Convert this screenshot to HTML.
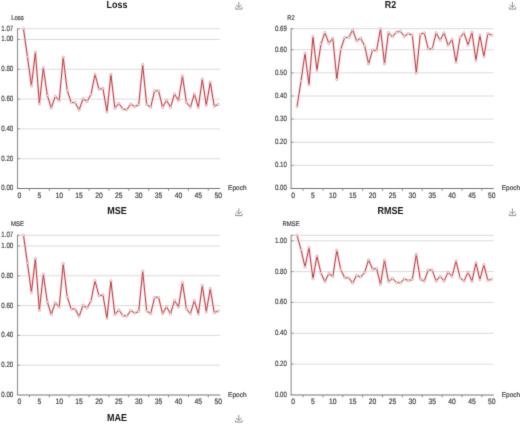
<!DOCTYPE html>
<html><head><meta charset="utf-8"><style>
html,body{margin:0;padding:0;background:#fff;width:520px;height:424px;overflow:hidden}
svg{display:block}
</style></head><body>
<svg width="520" height="424" viewBox="0 0 520 424" text-rendering="geometricPrecision">
<defs><filter id="b" x="0" y="0" width="520" height="424" filterUnits="userSpaceOnUse" color-interpolation-filters="sRGB"><feConvolveMatrix order="3" kernelMatrix="0.01134 0.08382 0.01134 0.08382 0.61935 0.08382 0.01134 0.08382 0.01134" edgeMode="duplicate" preserveAlpha="true"/></filter></defs>
<g filter="url(#b)">
<rect width="520" height="424" fill="#fff"/>
<text transform="translate(117.00,7.60) scale(1,1.13)" text-anchor="middle" font-family='"Liberation Sans", sans-serif' font-size="9" fill="#151515" font-weight="bold">Loss</text>
<path d="M238.80,1.90 L238.80,7.30 M235.90,4.90 L238.80,7.40 L241.70,4.90 M235.70,7.10 L235.70,9.10 L242.00,9.10 L242.00,7.10" fill="none" stroke="#8a8a8a" stroke-width="0.95"/>
<text transform="translate(17.50,19.60) scale(0.92,1.05)" text-anchor="middle" font-family='"Liberation Sans", sans-serif' font-size="6.5" fill="#3a3a3a" stroke="#3a3a3a" stroke-width="0.16">Loss</text>
<line x1="17.50" y1="28.75" x2="220.20" y2="28.75" stroke="#d2d2d2" stroke-width="0.8"/>
<line x1="17.50" y1="28.75" x2="19.70" y2="28.75" stroke="#666666" stroke-width="0.7"/>
<text transform="translate(13.20,30.70) scale(1,1.1)" text-anchor="end" font-family='"Liberation Sans", sans-serif' font-size="7" fill="#3a3a3a" textLength="11.9" lengthAdjust="spacingAndGlyphs" stroke="#3a3a3a" stroke-width="0.16">1.07</text>
<line x1="17.50" y1="39.48" x2="220.20" y2="39.48" stroke="#d2d2d2" stroke-width="0.8"/>
<line x1="17.50" y1="39.48" x2="19.70" y2="39.48" stroke="#666666" stroke-width="0.7"/>
<text transform="translate(13.20,41.43) scale(1,1.1)" text-anchor="end" font-family='"Liberation Sans", sans-serif' font-size="7" fill="#3a3a3a" textLength="11.9" lengthAdjust="spacingAndGlyphs" stroke="#3a3a3a" stroke-width="0.16">1.00</text>
<line x1="17.50" y1="69.28" x2="220.20" y2="69.28" stroke="#d2d2d2" stroke-width="0.8"/>
<line x1="17.50" y1="69.28" x2="19.70" y2="69.28" stroke="#666666" stroke-width="0.7"/>
<text transform="translate(13.20,71.23) scale(1,1.1)" text-anchor="end" font-family='"Liberation Sans", sans-serif' font-size="7" fill="#3a3a3a" textLength="11.9" lengthAdjust="spacingAndGlyphs" stroke="#3a3a3a" stroke-width="0.16">0.80</text>
<line x1="17.50" y1="99.09" x2="220.20" y2="99.09" stroke="#d2d2d2" stroke-width="0.8"/>
<line x1="17.50" y1="99.09" x2="19.70" y2="99.09" stroke="#666666" stroke-width="0.7"/>
<text transform="translate(13.20,101.04) scale(1,1.1)" text-anchor="end" font-family='"Liberation Sans", sans-serif' font-size="7" fill="#3a3a3a" textLength="11.9" lengthAdjust="spacingAndGlyphs" stroke="#3a3a3a" stroke-width="0.16">0.60</text>
<line x1="17.50" y1="128.89" x2="220.20" y2="128.89" stroke="#d2d2d2" stroke-width="0.8"/>
<line x1="17.50" y1="128.89" x2="19.70" y2="128.89" stroke="#666666" stroke-width="0.7"/>
<text transform="translate(13.20,130.84) scale(1,1.1)" text-anchor="end" font-family='"Liberation Sans", sans-serif' font-size="7" fill="#3a3a3a" textLength="11.9" lengthAdjust="spacingAndGlyphs" stroke="#3a3a3a" stroke-width="0.16">0.40</text>
<line x1="17.50" y1="158.70" x2="220.20" y2="158.70" stroke="#d2d2d2" stroke-width="0.8"/>
<line x1="17.50" y1="158.70" x2="19.70" y2="158.70" stroke="#666666" stroke-width="0.7"/>
<text transform="translate(13.20,160.65) scale(1,1.1)" text-anchor="end" font-family='"Liberation Sans", sans-serif' font-size="7" fill="#3a3a3a" textLength="11.9" lengthAdjust="spacingAndGlyphs" stroke="#3a3a3a" stroke-width="0.16">0.20</text>
<text transform="translate(13.20,190.45) scale(1,1.1)" text-anchor="end" font-family='"Liberation Sans", sans-serif' font-size="7" fill="#3a3a3a" textLength="11.9" lengthAdjust="spacingAndGlyphs" stroke="#3a3a3a" stroke-width="0.16">0.00</text>
<line x1="17.50" y1="28.35" x2="17.50" y2="188.50" stroke="#8f8f8f" stroke-width="1.1"/>
<line x1="17.00" y1="188.50" x2="220.20" y2="188.50" stroke="#666666" stroke-width="0.9"/>
<line x1="29.42" y1="188.50" x2="29.42" y2="190.90" stroke="#666666" stroke-width="0.7"/>
<line x1="49.30" y1="188.50" x2="49.30" y2="190.90" stroke="#666666" stroke-width="0.7"/>
<line x1="69.17" y1="188.50" x2="69.17" y2="190.90" stroke="#666666" stroke-width="0.7"/>
<line x1="89.04" y1="188.50" x2="89.04" y2="190.90" stroke="#666666" stroke-width="0.7"/>
<line x1="108.91" y1="188.50" x2="108.91" y2="190.90" stroke="#666666" stroke-width="0.7"/>
<line x1="128.79" y1="188.50" x2="128.79" y2="190.90" stroke="#666666" stroke-width="0.7"/>
<line x1="148.66" y1="188.50" x2="148.66" y2="190.90" stroke="#666666" stroke-width="0.7"/>
<line x1="168.53" y1="188.50" x2="168.53" y2="190.90" stroke="#666666" stroke-width="0.7"/>
<line x1="188.40" y1="188.50" x2="188.40" y2="190.90" stroke="#666666" stroke-width="0.7"/>
<line x1="208.28" y1="188.50" x2="208.28" y2="190.90" stroke="#666666" stroke-width="0.7"/>
<text transform="translate(19.49,197.65) scale(1,1.15)" text-anchor="middle" font-family='"Liberation Sans", sans-serif' font-size="6.8" fill="#3a3a3a" stroke="#3a3a3a" stroke-width="0.16">0</text>
<text transform="translate(39.36,197.65) scale(1,1.15)" text-anchor="middle" font-family='"Liberation Sans", sans-serif' font-size="6.8" fill="#3a3a3a" stroke="#3a3a3a" stroke-width="0.16">5</text>
<text transform="translate(59.23,197.65) scale(1,1.15)" text-anchor="middle" font-family='"Liberation Sans", sans-serif' font-size="6.8" fill="#3a3a3a" stroke="#3a3a3a" stroke-width="0.16">10</text>
<text transform="translate(79.10,197.65) scale(1,1.15)" text-anchor="middle" font-family='"Liberation Sans", sans-serif' font-size="6.8" fill="#3a3a3a" stroke="#3a3a3a" stroke-width="0.16">15</text>
<text transform="translate(98.98,197.65) scale(1,1.15)" text-anchor="middle" font-family='"Liberation Sans", sans-serif' font-size="6.8" fill="#3a3a3a" stroke="#3a3a3a" stroke-width="0.16">20</text>
<text transform="translate(118.85,197.65) scale(1,1.15)" text-anchor="middle" font-family='"Liberation Sans", sans-serif' font-size="6.8" fill="#3a3a3a" stroke="#3a3a3a" stroke-width="0.16">25</text>
<text transform="translate(138.72,197.65) scale(1,1.15)" text-anchor="middle" font-family='"Liberation Sans", sans-serif' font-size="6.8" fill="#3a3a3a" stroke="#3a3a3a" stroke-width="0.16">30</text>
<text transform="translate(158.60,197.65) scale(1,1.15)" text-anchor="middle" font-family='"Liberation Sans", sans-serif' font-size="6.8" fill="#3a3a3a" stroke="#3a3a3a" stroke-width="0.16">35</text>
<text transform="translate(178.47,197.65) scale(1,1.15)" text-anchor="middle" font-family='"Liberation Sans", sans-serif' font-size="6.8" fill="#3a3a3a" stroke="#3a3a3a" stroke-width="0.16">40</text>
<text transform="translate(198.34,197.65) scale(1,1.15)" text-anchor="middle" font-family='"Liberation Sans", sans-serif' font-size="6.8" fill="#3a3a3a" stroke="#3a3a3a" stroke-width="0.16">45</text>
<text transform="translate(218.21,197.65) scale(1,1.15)" text-anchor="middle" font-family='"Liberation Sans", sans-serif' font-size="6.8" fill="#3a3a3a" stroke="#3a3a3a" stroke-width="0.16">50</text>
<text transform="translate(228.10,190.10) scale(1.0,1.05)" text-anchor="start" font-family='"Liberation Sans", sans-serif' font-size="6.5" fill="#3a3a3a" stroke="#3a3a3a" stroke-width="0.16">Epoch</text>
<path d="M23.46,28.75 L27.44,56.62 L31.41,85.97 L35.39,52.15 L39.36,103.86 L43.33,67.64 L47.31,95.36 L51.28,108.03 L55.26,96.26 L59.23,100.58 L63.21,57.21 L67.18,90.30 L71.16,102.52 L75.13,102.52 L79.10,109.97 L83.08,98.79 L87.05,101.47 L91.03,94.47 L95.00,74.20 L98.98,89.25 L102.95,88.36 L106.93,111.90 L110.90,74.35 L114.88,108.18 L118.85,103.41 L122.82,109.07 L126.80,109.67 L130.77,104.01 L134.75,106.69 L138.72,104.75 L142.70,64.66 L146.67,104.45 L150.65,107.28 L154.62,90.89 L158.60,90.89 L162.57,107.28 L166.54,100.28 L170.52,107.28 L174.49,94.02 L178.47,100.58 L182.44,75.99 L186.42,102.37 L190.39,107.28 L194.37,94.02 L198.34,107.58 L202.31,78.97 L206.29,105.35 L210.26,82.10 L214.24,106.24 L218.21,104.45" fill="none" stroke="#f7e2e4" stroke-width="2.6" stroke-linejoin="round"/>
<path d="M23.46,28.75 L27.44,56.62 L31.41,85.97 L35.39,52.15 L39.36,103.86 L43.33,67.64 L47.31,95.36 L51.28,108.03 L55.26,96.26 L59.23,100.58 L63.21,57.21 L67.18,90.30 L71.16,102.52 L75.13,102.52 L79.10,109.97 L83.08,98.79 L87.05,101.47 L91.03,94.47 L95.00,74.20 L98.98,89.25 L102.95,88.36 L106.93,111.90 L110.90,74.35 L114.88,108.18 L118.85,103.41 L122.82,109.07 L126.80,109.67 L130.77,104.01 L134.75,106.69 L138.72,104.75 L142.70,64.66 L146.67,104.45 L150.65,107.28 L154.62,90.89 L158.60,90.89 L162.57,107.28 L166.54,100.28 L170.52,107.28 L174.49,94.02 L178.47,100.58 L182.44,75.99 L186.42,102.37 L190.39,107.28 L194.37,94.02 L198.34,107.58 L202.31,78.97 L206.29,105.35 L210.26,82.10 L214.24,106.24 L218.21,104.45" fill="none" stroke="#bd3b42" stroke-width="1.0" stroke-linejoin="bevel"/>
<circle cx="23.46" cy="28.75" r="1.2" fill="#fbeeee" stroke="#bd3b42" stroke-width="0.55" stroke-opacity="0.55"/>
<circle cx="27.44" cy="56.62" r="1.2" fill="#fbeeee" stroke="#bd3b42" stroke-width="0.55" stroke-opacity="0.55"/>
<circle cx="31.41" cy="85.97" r="1.2" fill="#fbeeee" stroke="#bd3b42" stroke-width="0.55" stroke-opacity="0.55"/>
<circle cx="35.39" cy="52.15" r="1.2" fill="#fbeeee" stroke="#bd3b42" stroke-width="0.55" stroke-opacity="0.55"/>
<circle cx="39.36" cy="103.86" r="1.2" fill="#fbeeee" stroke="#bd3b42" stroke-width="0.55" stroke-opacity="0.55"/>
<circle cx="43.33" cy="67.64" r="1.2" fill="#fbeeee" stroke="#bd3b42" stroke-width="0.55" stroke-opacity="0.55"/>
<circle cx="47.31" cy="95.36" r="1.2" fill="#fbeeee" stroke="#bd3b42" stroke-width="0.55" stroke-opacity="0.55"/>
<circle cx="51.28" cy="108.03" r="1.2" fill="#fbeeee" stroke="#bd3b42" stroke-width="0.55" stroke-opacity="0.55"/>
<circle cx="55.26" cy="96.26" r="1.2" fill="#fbeeee" stroke="#bd3b42" stroke-width="0.55" stroke-opacity="0.55"/>
<circle cx="59.23" cy="100.58" r="1.2" fill="#fbeeee" stroke="#bd3b42" stroke-width="0.55" stroke-opacity="0.55"/>
<circle cx="63.21" cy="57.21" r="1.2" fill="#fbeeee" stroke="#bd3b42" stroke-width="0.55" stroke-opacity="0.55"/>
<circle cx="67.18" cy="90.30" r="1.2" fill="#fbeeee" stroke="#bd3b42" stroke-width="0.55" stroke-opacity="0.55"/>
<circle cx="71.16" cy="102.52" r="1.2" fill="#fbeeee" stroke="#bd3b42" stroke-width="0.55" stroke-opacity="0.55"/>
<circle cx="75.13" cy="102.52" r="1.2" fill="#fbeeee" stroke="#bd3b42" stroke-width="0.55" stroke-opacity="0.55"/>
<circle cx="79.10" cy="109.97" r="1.2" fill="#fbeeee" stroke="#bd3b42" stroke-width="0.55" stroke-opacity="0.55"/>
<circle cx="83.08" cy="98.79" r="1.2" fill="#fbeeee" stroke="#bd3b42" stroke-width="0.55" stroke-opacity="0.55"/>
<circle cx="87.05" cy="101.47" r="1.2" fill="#fbeeee" stroke="#bd3b42" stroke-width="0.55" stroke-opacity="0.55"/>
<circle cx="91.03" cy="94.47" r="1.2" fill="#fbeeee" stroke="#bd3b42" stroke-width="0.55" stroke-opacity="0.55"/>
<circle cx="95.00" cy="74.20" r="1.2" fill="#fbeeee" stroke="#bd3b42" stroke-width="0.55" stroke-opacity="0.55"/>
<circle cx="98.98" cy="89.25" r="1.2" fill="#fbeeee" stroke="#bd3b42" stroke-width="0.55" stroke-opacity="0.55"/>
<circle cx="102.95" cy="88.36" r="1.2" fill="#fbeeee" stroke="#bd3b42" stroke-width="0.55" stroke-opacity="0.55"/>
<circle cx="106.93" cy="111.90" r="1.2" fill="#fbeeee" stroke="#bd3b42" stroke-width="0.55" stroke-opacity="0.55"/>
<circle cx="110.90" cy="74.35" r="1.2" fill="#fbeeee" stroke="#bd3b42" stroke-width="0.55" stroke-opacity="0.55"/>
<circle cx="114.88" cy="108.18" r="1.2" fill="#fbeeee" stroke="#bd3b42" stroke-width="0.55" stroke-opacity="0.55"/>
<circle cx="118.85" cy="103.41" r="1.2" fill="#fbeeee" stroke="#bd3b42" stroke-width="0.55" stroke-opacity="0.55"/>
<circle cx="122.82" cy="109.07" r="1.2" fill="#fbeeee" stroke="#bd3b42" stroke-width="0.55" stroke-opacity="0.55"/>
<circle cx="126.80" cy="109.67" r="1.2" fill="#fbeeee" stroke="#bd3b42" stroke-width="0.55" stroke-opacity="0.55"/>
<circle cx="130.77" cy="104.01" r="1.2" fill="#fbeeee" stroke="#bd3b42" stroke-width="0.55" stroke-opacity="0.55"/>
<circle cx="134.75" cy="106.69" r="1.2" fill="#fbeeee" stroke="#bd3b42" stroke-width="0.55" stroke-opacity="0.55"/>
<circle cx="138.72" cy="104.75" r="1.2" fill="#fbeeee" stroke="#bd3b42" stroke-width="0.55" stroke-opacity="0.55"/>
<circle cx="142.70" cy="64.66" r="1.2" fill="#fbeeee" stroke="#bd3b42" stroke-width="0.55" stroke-opacity="0.55"/>
<circle cx="146.67" cy="104.45" r="1.2" fill="#fbeeee" stroke="#bd3b42" stroke-width="0.55" stroke-opacity="0.55"/>
<circle cx="150.65" cy="107.28" r="1.2" fill="#fbeeee" stroke="#bd3b42" stroke-width="0.55" stroke-opacity="0.55"/>
<circle cx="154.62" cy="90.89" r="1.2" fill="#fbeeee" stroke="#bd3b42" stroke-width="0.55" stroke-opacity="0.55"/>
<circle cx="158.60" cy="90.89" r="1.2" fill="#fbeeee" stroke="#bd3b42" stroke-width="0.55" stroke-opacity="0.55"/>
<circle cx="162.57" cy="107.28" r="1.2" fill="#fbeeee" stroke="#bd3b42" stroke-width="0.55" stroke-opacity="0.55"/>
<circle cx="166.54" cy="100.28" r="1.2" fill="#fbeeee" stroke="#bd3b42" stroke-width="0.55" stroke-opacity="0.55"/>
<circle cx="170.52" cy="107.28" r="1.2" fill="#fbeeee" stroke="#bd3b42" stroke-width="0.55" stroke-opacity="0.55"/>
<circle cx="174.49" cy="94.02" r="1.2" fill="#fbeeee" stroke="#bd3b42" stroke-width="0.55" stroke-opacity="0.55"/>
<circle cx="178.47" cy="100.58" r="1.2" fill="#fbeeee" stroke="#bd3b42" stroke-width="0.55" stroke-opacity="0.55"/>
<circle cx="182.44" cy="75.99" r="1.2" fill="#fbeeee" stroke="#bd3b42" stroke-width="0.55" stroke-opacity="0.55"/>
<circle cx="186.42" cy="102.37" r="1.2" fill="#fbeeee" stroke="#bd3b42" stroke-width="0.55" stroke-opacity="0.55"/>
<circle cx="190.39" cy="107.28" r="1.2" fill="#fbeeee" stroke="#bd3b42" stroke-width="0.55" stroke-opacity="0.55"/>
<circle cx="194.37" cy="94.02" r="1.2" fill="#fbeeee" stroke="#bd3b42" stroke-width="0.55" stroke-opacity="0.55"/>
<circle cx="198.34" cy="107.58" r="1.2" fill="#fbeeee" stroke="#bd3b42" stroke-width="0.55" stroke-opacity="0.55"/>
<circle cx="202.31" cy="78.97" r="1.2" fill="#fbeeee" stroke="#bd3b42" stroke-width="0.55" stroke-opacity="0.55"/>
<circle cx="206.29" cy="105.35" r="1.2" fill="#fbeeee" stroke="#bd3b42" stroke-width="0.55" stroke-opacity="0.55"/>
<circle cx="210.26" cy="82.10" r="1.2" fill="#fbeeee" stroke="#bd3b42" stroke-width="0.55" stroke-opacity="0.55"/>
<circle cx="214.24" cy="106.24" r="1.2" fill="#fbeeee" stroke="#bd3b42" stroke-width="0.55" stroke-opacity="0.55"/>
<circle cx="218.21" cy="104.45" r="1.2" fill="#fbeeee" stroke="#bd3b42" stroke-width="0.55" stroke-opacity="0.55"/>
<text transform="translate(390.60,7.60) scale(1,1.13)" text-anchor="middle" font-family='"Liberation Sans", sans-serif' font-size="9" fill="#151515" font-weight="bold">R2</text>
<path d="M512.40,1.90 L512.40,7.30 M509.50,4.90 L512.40,7.40 L515.30,4.90 M509.30,7.10 L509.30,9.10 L515.60,9.10 L515.60,7.10" fill="none" stroke="#8a8a8a" stroke-width="0.95"/>
<text transform="translate(291.10,19.60) scale(0.92,1.05)" text-anchor="middle" font-family='"Liberation Sans", sans-serif' font-size="6.5" fill="#3a3a3a" stroke="#3a3a3a" stroke-width="0.16">R2</text>
<line x1="291.10" y1="28.70" x2="493.80" y2="28.70" stroke="#d2d2d2" stroke-width="0.8"/>
<line x1="291.10" y1="28.70" x2="293.30" y2="28.70" stroke="#666666" stroke-width="0.7"/>
<text transform="translate(286.80,30.65) scale(1,1.1)" text-anchor="end" font-family='"Liberation Sans", sans-serif' font-size="7" fill="#3a3a3a" textLength="11.9" lengthAdjust="spacingAndGlyphs" stroke="#3a3a3a" stroke-width="0.16">0.69</text>
<line x1="291.10" y1="49.74" x2="493.80" y2="49.74" stroke="#d2d2d2" stroke-width="0.8"/>
<line x1="291.10" y1="49.74" x2="293.30" y2="49.74" stroke="#666666" stroke-width="0.7"/>
<text transform="translate(286.80,51.69) scale(1,1.1)" text-anchor="end" font-family='"Liberation Sans", sans-serif' font-size="7" fill="#3a3a3a" textLength="11.9" lengthAdjust="spacingAndGlyphs" stroke="#3a3a3a" stroke-width="0.16">0.60</text>
<line x1="291.10" y1="72.87" x2="493.80" y2="72.87" stroke="#d2d2d2" stroke-width="0.8"/>
<line x1="291.10" y1="72.87" x2="293.30" y2="72.87" stroke="#666666" stroke-width="0.7"/>
<text transform="translate(286.80,74.82) scale(1,1.1)" text-anchor="end" font-family='"Liberation Sans", sans-serif' font-size="7" fill="#3a3a3a" textLength="11.9" lengthAdjust="spacingAndGlyphs" stroke="#3a3a3a" stroke-width="0.16">0.50</text>
<line x1="291.10" y1="96.00" x2="493.80" y2="96.00" stroke="#d2d2d2" stroke-width="0.8"/>
<line x1="291.10" y1="96.00" x2="293.30" y2="96.00" stroke="#666666" stroke-width="0.7"/>
<text transform="translate(286.80,97.95) scale(1,1.1)" text-anchor="end" font-family='"Liberation Sans", sans-serif' font-size="7" fill="#3a3a3a" textLength="11.9" lengthAdjust="spacingAndGlyphs" stroke="#3a3a3a" stroke-width="0.16">0.40</text>
<line x1="291.10" y1="119.12" x2="493.80" y2="119.12" stroke="#d2d2d2" stroke-width="0.8"/>
<line x1="291.10" y1="119.12" x2="293.30" y2="119.12" stroke="#666666" stroke-width="0.7"/>
<text transform="translate(286.80,121.07) scale(1,1.1)" text-anchor="end" font-family='"Liberation Sans", sans-serif' font-size="7" fill="#3a3a3a" textLength="11.9" lengthAdjust="spacingAndGlyphs" stroke="#3a3a3a" stroke-width="0.16">0.30</text>
<line x1="291.10" y1="142.25" x2="493.80" y2="142.25" stroke="#d2d2d2" stroke-width="0.8"/>
<line x1="291.10" y1="142.25" x2="293.30" y2="142.25" stroke="#666666" stroke-width="0.7"/>
<text transform="translate(286.80,144.20) scale(1,1.1)" text-anchor="end" font-family='"Liberation Sans", sans-serif' font-size="7" fill="#3a3a3a" textLength="11.9" lengthAdjust="spacingAndGlyphs" stroke="#3a3a3a" stroke-width="0.16">0.20</text>
<line x1="291.10" y1="165.37" x2="493.80" y2="165.37" stroke="#d2d2d2" stroke-width="0.8"/>
<line x1="291.10" y1="165.37" x2="293.30" y2="165.37" stroke="#666666" stroke-width="0.7"/>
<text transform="translate(286.80,167.32) scale(1,1.1)" text-anchor="end" font-family='"Liberation Sans", sans-serif' font-size="7" fill="#3a3a3a" textLength="11.9" lengthAdjust="spacingAndGlyphs" stroke="#3a3a3a" stroke-width="0.16">0.10</text>
<text transform="translate(286.80,190.45) scale(1,1.1)" text-anchor="end" font-family='"Liberation Sans", sans-serif' font-size="7" fill="#3a3a3a" textLength="11.9" lengthAdjust="spacingAndGlyphs" stroke="#3a3a3a" stroke-width="0.16">0.00</text>
<line x1="291.10" y1="28.30" x2="291.10" y2="188.50" stroke="#8f8f8f" stroke-width="1.1"/>
<line x1="290.60" y1="188.50" x2="493.80" y2="188.50" stroke="#666666" stroke-width="0.9"/>
<line x1="303.02" y1="188.50" x2="303.02" y2="190.90" stroke="#666666" stroke-width="0.7"/>
<line x1="322.90" y1="188.50" x2="322.90" y2="190.90" stroke="#666666" stroke-width="0.7"/>
<line x1="342.77" y1="188.50" x2="342.77" y2="190.90" stroke="#666666" stroke-width="0.7"/>
<line x1="362.64" y1="188.50" x2="362.64" y2="190.90" stroke="#666666" stroke-width="0.7"/>
<line x1="382.51" y1="188.50" x2="382.51" y2="190.90" stroke="#666666" stroke-width="0.7"/>
<line x1="402.39" y1="188.50" x2="402.39" y2="190.90" stroke="#666666" stroke-width="0.7"/>
<line x1="422.26" y1="188.50" x2="422.26" y2="190.90" stroke="#666666" stroke-width="0.7"/>
<line x1="442.13" y1="188.50" x2="442.13" y2="190.90" stroke="#666666" stroke-width="0.7"/>
<line x1="462.00" y1="188.50" x2="462.00" y2="190.90" stroke="#666666" stroke-width="0.7"/>
<line x1="481.88" y1="188.50" x2="481.88" y2="190.90" stroke="#666666" stroke-width="0.7"/>
<text transform="translate(293.09,197.65) scale(1,1.15)" text-anchor="middle" font-family='"Liberation Sans", sans-serif' font-size="6.8" fill="#3a3a3a" stroke="#3a3a3a" stroke-width="0.16">0</text>
<text transform="translate(312.96,197.65) scale(1,1.15)" text-anchor="middle" font-family='"Liberation Sans", sans-serif' font-size="6.8" fill="#3a3a3a" stroke="#3a3a3a" stroke-width="0.16">5</text>
<text transform="translate(332.83,197.65) scale(1,1.15)" text-anchor="middle" font-family='"Liberation Sans", sans-serif' font-size="6.8" fill="#3a3a3a" stroke="#3a3a3a" stroke-width="0.16">10</text>
<text transform="translate(352.70,197.65) scale(1,1.15)" text-anchor="middle" font-family='"Liberation Sans", sans-serif' font-size="6.8" fill="#3a3a3a" stroke="#3a3a3a" stroke-width="0.16">15</text>
<text transform="translate(372.58,197.65) scale(1,1.15)" text-anchor="middle" font-family='"Liberation Sans", sans-serif' font-size="6.8" fill="#3a3a3a" stroke="#3a3a3a" stroke-width="0.16">20</text>
<text transform="translate(392.45,197.65) scale(1,1.15)" text-anchor="middle" font-family='"Liberation Sans", sans-serif' font-size="6.8" fill="#3a3a3a" stroke="#3a3a3a" stroke-width="0.16">25</text>
<text transform="translate(412.32,197.65) scale(1,1.15)" text-anchor="middle" font-family='"Liberation Sans", sans-serif' font-size="6.8" fill="#3a3a3a" stroke="#3a3a3a" stroke-width="0.16">30</text>
<text transform="translate(432.20,197.65) scale(1,1.15)" text-anchor="middle" font-family='"Liberation Sans", sans-serif' font-size="6.8" fill="#3a3a3a" stroke="#3a3a3a" stroke-width="0.16">35</text>
<text transform="translate(452.07,197.65) scale(1,1.15)" text-anchor="middle" font-family='"Liberation Sans", sans-serif' font-size="6.8" fill="#3a3a3a" stroke="#3a3a3a" stroke-width="0.16">40</text>
<text transform="translate(471.94,197.65) scale(1,1.15)" text-anchor="middle" font-family='"Liberation Sans", sans-serif' font-size="6.8" fill="#3a3a3a" stroke="#3a3a3a" stroke-width="0.16">45</text>
<text transform="translate(491.81,197.65) scale(1,1.15)" text-anchor="middle" font-family='"Liberation Sans", sans-serif' font-size="6.8" fill="#3a3a3a" stroke="#3a3a3a" stroke-width="0.16">50</text>
<text transform="translate(501.70,190.10) scale(1.0,1.05)" text-anchor="start" font-family='"Liberation Sans", sans-serif' font-size="6.5" fill="#3a3a3a" stroke="#3a3a3a" stroke-width="0.16">Epoch</text>
<path d="M297.06,106.63 L301.04,80.96 L305.01,53.21 L308.99,84.90 L312.96,36.56 L316.93,70.33 L320.91,44.19 L324.88,32.63 L328.86,43.27 L332.83,38.18 L336.81,79.35 L340.78,49.28 L344.76,37.49 L348.73,37.49 L352.70,30.09 L356.68,40.96 L360.65,38.18 L364.63,45.81 L368.60,63.85 L372.58,49.98 L376.55,50.67 L380.53,28.70 L384.50,63.85 L388.48,32.63 L392.45,36.79 L396.42,32.17 L400.40,31.24 L404.37,36.56 L408.35,33.56 L412.32,35.18 L416.30,73.10 L420.27,34.48 L424.25,32.86 L428.22,48.82 L432.20,48.82 L436.17,32.86 L440.14,40.26 L444.12,32.86 L448.09,45.35 L452.07,39.34 L456.04,62.23 L460.02,37.49 L463.99,32.86 L467.97,45.12 L471.94,32.17 L475.91,60.38 L479.89,35.18 L483.86,56.68 L487.84,33.56 L491.81,35.18" fill="none" stroke="#f7e2e4" stroke-width="2.6" stroke-linejoin="round"/>
<path d="M297.06,106.63 L301.04,80.96 L305.01,53.21 L308.99,84.90 L312.96,36.56 L316.93,70.33 L320.91,44.19 L324.88,32.63 L328.86,43.27 L332.83,38.18 L336.81,79.35 L340.78,49.28 L344.76,37.49 L348.73,37.49 L352.70,30.09 L356.68,40.96 L360.65,38.18 L364.63,45.81 L368.60,63.85 L372.58,49.98 L376.55,50.67 L380.53,28.70 L384.50,63.85 L388.48,32.63 L392.45,36.79 L396.42,32.17 L400.40,31.24 L404.37,36.56 L408.35,33.56 L412.32,35.18 L416.30,73.10 L420.27,34.48 L424.25,32.86 L428.22,48.82 L432.20,48.82 L436.17,32.86 L440.14,40.26 L444.12,32.86 L448.09,45.35 L452.07,39.34 L456.04,62.23 L460.02,37.49 L463.99,32.86 L467.97,45.12 L471.94,32.17 L475.91,60.38 L479.89,35.18 L483.86,56.68 L487.84,33.56 L491.81,35.18" fill="none" stroke="#bd3b42" stroke-width="1.0" stroke-linejoin="bevel"/>
<circle cx="297.06" cy="106.63" r="1.2" fill="#fbeeee" stroke="#bd3b42" stroke-width="0.55" stroke-opacity="0.55"/>
<circle cx="301.04" cy="80.96" r="1.2" fill="#fbeeee" stroke="#bd3b42" stroke-width="0.55" stroke-opacity="0.55"/>
<circle cx="305.01" cy="53.21" r="1.2" fill="#fbeeee" stroke="#bd3b42" stroke-width="0.55" stroke-opacity="0.55"/>
<circle cx="308.99" cy="84.90" r="1.2" fill="#fbeeee" stroke="#bd3b42" stroke-width="0.55" stroke-opacity="0.55"/>
<circle cx="312.96" cy="36.56" r="1.2" fill="#fbeeee" stroke="#bd3b42" stroke-width="0.55" stroke-opacity="0.55"/>
<circle cx="316.93" cy="70.33" r="1.2" fill="#fbeeee" stroke="#bd3b42" stroke-width="0.55" stroke-opacity="0.55"/>
<circle cx="320.91" cy="44.19" r="1.2" fill="#fbeeee" stroke="#bd3b42" stroke-width="0.55" stroke-opacity="0.55"/>
<circle cx="324.88" cy="32.63" r="1.2" fill="#fbeeee" stroke="#bd3b42" stroke-width="0.55" stroke-opacity="0.55"/>
<circle cx="328.86" cy="43.27" r="1.2" fill="#fbeeee" stroke="#bd3b42" stroke-width="0.55" stroke-opacity="0.55"/>
<circle cx="332.83" cy="38.18" r="1.2" fill="#fbeeee" stroke="#bd3b42" stroke-width="0.55" stroke-opacity="0.55"/>
<circle cx="336.81" cy="79.35" r="1.2" fill="#fbeeee" stroke="#bd3b42" stroke-width="0.55" stroke-opacity="0.55"/>
<circle cx="340.78" cy="49.28" r="1.2" fill="#fbeeee" stroke="#bd3b42" stroke-width="0.55" stroke-opacity="0.55"/>
<circle cx="344.76" cy="37.49" r="1.2" fill="#fbeeee" stroke="#bd3b42" stroke-width="0.55" stroke-opacity="0.55"/>
<circle cx="348.73" cy="37.49" r="1.2" fill="#fbeeee" stroke="#bd3b42" stroke-width="0.55" stroke-opacity="0.55"/>
<circle cx="352.70" cy="30.09" r="1.2" fill="#fbeeee" stroke="#bd3b42" stroke-width="0.55" stroke-opacity="0.55"/>
<circle cx="356.68" cy="40.96" r="1.2" fill="#fbeeee" stroke="#bd3b42" stroke-width="0.55" stroke-opacity="0.55"/>
<circle cx="360.65" cy="38.18" r="1.2" fill="#fbeeee" stroke="#bd3b42" stroke-width="0.55" stroke-opacity="0.55"/>
<circle cx="364.63" cy="45.81" r="1.2" fill="#fbeeee" stroke="#bd3b42" stroke-width="0.55" stroke-opacity="0.55"/>
<circle cx="368.60" cy="63.85" r="1.2" fill="#fbeeee" stroke="#bd3b42" stroke-width="0.55" stroke-opacity="0.55"/>
<circle cx="372.58" cy="49.98" r="1.2" fill="#fbeeee" stroke="#bd3b42" stroke-width="0.55" stroke-opacity="0.55"/>
<circle cx="376.55" cy="50.67" r="1.2" fill="#fbeeee" stroke="#bd3b42" stroke-width="0.55" stroke-opacity="0.55"/>
<circle cx="380.53" cy="28.70" r="1.2" fill="#fbeeee" stroke="#bd3b42" stroke-width="0.55" stroke-opacity="0.55"/>
<circle cx="384.50" cy="63.85" r="1.2" fill="#fbeeee" stroke="#bd3b42" stroke-width="0.55" stroke-opacity="0.55"/>
<circle cx="388.48" cy="32.63" r="1.2" fill="#fbeeee" stroke="#bd3b42" stroke-width="0.55" stroke-opacity="0.55"/>
<circle cx="392.45" cy="36.79" r="1.2" fill="#fbeeee" stroke="#bd3b42" stroke-width="0.55" stroke-opacity="0.55"/>
<circle cx="396.42" cy="32.17" r="1.2" fill="#fbeeee" stroke="#bd3b42" stroke-width="0.55" stroke-opacity="0.55"/>
<circle cx="400.40" cy="31.24" r="1.2" fill="#fbeeee" stroke="#bd3b42" stroke-width="0.55" stroke-opacity="0.55"/>
<circle cx="404.37" cy="36.56" r="1.2" fill="#fbeeee" stroke="#bd3b42" stroke-width="0.55" stroke-opacity="0.55"/>
<circle cx="408.35" cy="33.56" r="1.2" fill="#fbeeee" stroke="#bd3b42" stroke-width="0.55" stroke-opacity="0.55"/>
<circle cx="412.32" cy="35.18" r="1.2" fill="#fbeeee" stroke="#bd3b42" stroke-width="0.55" stroke-opacity="0.55"/>
<circle cx="416.30" cy="73.10" r="1.2" fill="#fbeeee" stroke="#bd3b42" stroke-width="0.55" stroke-opacity="0.55"/>
<circle cx="420.27" cy="34.48" r="1.2" fill="#fbeeee" stroke="#bd3b42" stroke-width="0.55" stroke-opacity="0.55"/>
<circle cx="424.25" cy="32.86" r="1.2" fill="#fbeeee" stroke="#bd3b42" stroke-width="0.55" stroke-opacity="0.55"/>
<circle cx="428.22" cy="48.82" r="1.2" fill="#fbeeee" stroke="#bd3b42" stroke-width="0.55" stroke-opacity="0.55"/>
<circle cx="432.20" cy="48.82" r="1.2" fill="#fbeeee" stroke="#bd3b42" stroke-width="0.55" stroke-opacity="0.55"/>
<circle cx="436.17" cy="32.86" r="1.2" fill="#fbeeee" stroke="#bd3b42" stroke-width="0.55" stroke-opacity="0.55"/>
<circle cx="440.14" cy="40.26" r="1.2" fill="#fbeeee" stroke="#bd3b42" stroke-width="0.55" stroke-opacity="0.55"/>
<circle cx="444.12" cy="32.86" r="1.2" fill="#fbeeee" stroke="#bd3b42" stroke-width="0.55" stroke-opacity="0.55"/>
<circle cx="448.09" cy="45.35" r="1.2" fill="#fbeeee" stroke="#bd3b42" stroke-width="0.55" stroke-opacity="0.55"/>
<circle cx="452.07" cy="39.34" r="1.2" fill="#fbeeee" stroke="#bd3b42" stroke-width="0.55" stroke-opacity="0.55"/>
<circle cx="456.04" cy="62.23" r="1.2" fill="#fbeeee" stroke="#bd3b42" stroke-width="0.55" stroke-opacity="0.55"/>
<circle cx="460.02" cy="37.49" r="1.2" fill="#fbeeee" stroke="#bd3b42" stroke-width="0.55" stroke-opacity="0.55"/>
<circle cx="463.99" cy="32.86" r="1.2" fill="#fbeeee" stroke="#bd3b42" stroke-width="0.55" stroke-opacity="0.55"/>
<circle cx="467.97" cy="45.12" r="1.2" fill="#fbeeee" stroke="#bd3b42" stroke-width="0.55" stroke-opacity="0.55"/>
<circle cx="471.94" cy="32.17" r="1.2" fill="#fbeeee" stroke="#bd3b42" stroke-width="0.55" stroke-opacity="0.55"/>
<circle cx="475.91" cy="60.38" r="1.2" fill="#fbeeee" stroke="#bd3b42" stroke-width="0.55" stroke-opacity="0.55"/>
<circle cx="479.89" cy="35.18" r="1.2" fill="#fbeeee" stroke="#bd3b42" stroke-width="0.55" stroke-opacity="0.55"/>
<circle cx="483.86" cy="56.68" r="1.2" fill="#fbeeee" stroke="#bd3b42" stroke-width="0.55" stroke-opacity="0.55"/>
<circle cx="487.84" cy="33.56" r="1.2" fill="#fbeeee" stroke="#bd3b42" stroke-width="0.55" stroke-opacity="0.55"/>
<circle cx="491.81" cy="35.18" r="1.2" fill="#fbeeee" stroke="#bd3b42" stroke-width="0.55" stroke-opacity="0.55"/>
<text transform="translate(117.00,214.10) scale(1,1.13)" text-anchor="middle" font-family='"Liberation Sans", sans-serif' font-size="9" fill="#151515" font-weight="bold">MSE</text>
<path d="M238.80,208.40 L238.80,213.80 M235.90,211.40 L238.80,213.90 L241.70,211.40 M235.70,213.60 L235.70,215.60 L242.00,215.60 L242.00,213.60" fill="none" stroke="#8a8a8a" stroke-width="0.95"/>
<text transform="translate(17.50,226.10) scale(0.92,1.05)" text-anchor="middle" font-family='"Liberation Sans", sans-serif' font-size="6.5" fill="#3a3a3a" stroke="#3a3a3a" stroke-width="0.16">MSE</text>
<line x1="17.50" y1="235.25" x2="220.20" y2="235.25" stroke="#d2d2d2" stroke-width="0.8"/>
<line x1="17.50" y1="235.25" x2="19.70" y2="235.25" stroke="#666666" stroke-width="0.7"/>
<text transform="translate(13.20,237.20) scale(1,1.1)" text-anchor="end" font-family='"Liberation Sans", sans-serif' font-size="7" fill="#3a3a3a" textLength="11.9" lengthAdjust="spacingAndGlyphs" stroke="#3a3a3a" stroke-width="0.16">1.07</text>
<line x1="17.50" y1="245.98" x2="220.20" y2="245.98" stroke="#d2d2d2" stroke-width="0.8"/>
<line x1="17.50" y1="245.98" x2="19.70" y2="245.98" stroke="#666666" stroke-width="0.7"/>
<text transform="translate(13.20,247.93) scale(1,1.1)" text-anchor="end" font-family='"Liberation Sans", sans-serif' font-size="7" fill="#3a3a3a" textLength="11.9" lengthAdjust="spacingAndGlyphs" stroke="#3a3a3a" stroke-width="0.16">1.00</text>
<line x1="17.50" y1="275.78" x2="220.20" y2="275.78" stroke="#d2d2d2" stroke-width="0.8"/>
<line x1="17.50" y1="275.78" x2="19.70" y2="275.78" stroke="#666666" stroke-width="0.7"/>
<text transform="translate(13.20,277.73) scale(1,1.1)" text-anchor="end" font-family='"Liberation Sans", sans-serif' font-size="7" fill="#3a3a3a" textLength="11.9" lengthAdjust="spacingAndGlyphs" stroke="#3a3a3a" stroke-width="0.16">0.80</text>
<line x1="17.50" y1="305.59" x2="220.20" y2="305.59" stroke="#d2d2d2" stroke-width="0.8"/>
<line x1="17.50" y1="305.59" x2="19.70" y2="305.59" stroke="#666666" stroke-width="0.7"/>
<text transform="translate(13.20,307.54) scale(1,1.1)" text-anchor="end" font-family='"Liberation Sans", sans-serif' font-size="7" fill="#3a3a3a" textLength="11.9" lengthAdjust="spacingAndGlyphs" stroke="#3a3a3a" stroke-width="0.16">0.60</text>
<line x1="17.50" y1="335.39" x2="220.20" y2="335.39" stroke="#d2d2d2" stroke-width="0.8"/>
<line x1="17.50" y1="335.39" x2="19.70" y2="335.39" stroke="#666666" stroke-width="0.7"/>
<text transform="translate(13.20,337.34) scale(1,1.1)" text-anchor="end" font-family='"Liberation Sans", sans-serif' font-size="7" fill="#3a3a3a" textLength="11.9" lengthAdjust="spacingAndGlyphs" stroke="#3a3a3a" stroke-width="0.16">0.40</text>
<line x1="17.50" y1="365.20" x2="220.20" y2="365.20" stroke="#d2d2d2" stroke-width="0.8"/>
<line x1="17.50" y1="365.20" x2="19.70" y2="365.20" stroke="#666666" stroke-width="0.7"/>
<text transform="translate(13.20,367.15) scale(1,1.1)" text-anchor="end" font-family='"Liberation Sans", sans-serif' font-size="7" fill="#3a3a3a" textLength="11.9" lengthAdjust="spacingAndGlyphs" stroke="#3a3a3a" stroke-width="0.16">0.20</text>
<text transform="translate(13.20,396.95) scale(1,1.1)" text-anchor="end" font-family='"Liberation Sans", sans-serif' font-size="7" fill="#3a3a3a" textLength="11.9" lengthAdjust="spacingAndGlyphs" stroke="#3a3a3a" stroke-width="0.16">0.00</text>
<line x1="17.50" y1="234.85" x2="17.50" y2="395.00" stroke="#8f8f8f" stroke-width="1.1"/>
<line x1="17.00" y1="395.00" x2="220.20" y2="395.00" stroke="#666666" stroke-width="0.9"/>
<line x1="29.42" y1="395.00" x2="29.42" y2="397.40" stroke="#666666" stroke-width="0.7"/>
<line x1="49.30" y1="395.00" x2="49.30" y2="397.40" stroke="#666666" stroke-width="0.7"/>
<line x1="69.17" y1="395.00" x2="69.17" y2="397.40" stroke="#666666" stroke-width="0.7"/>
<line x1="89.04" y1="395.00" x2="89.04" y2="397.40" stroke="#666666" stroke-width="0.7"/>
<line x1="108.91" y1="395.00" x2="108.91" y2="397.40" stroke="#666666" stroke-width="0.7"/>
<line x1="128.79" y1="395.00" x2="128.79" y2="397.40" stroke="#666666" stroke-width="0.7"/>
<line x1="148.66" y1="395.00" x2="148.66" y2="397.40" stroke="#666666" stroke-width="0.7"/>
<line x1="168.53" y1="395.00" x2="168.53" y2="397.40" stroke="#666666" stroke-width="0.7"/>
<line x1="188.40" y1="395.00" x2="188.40" y2="397.40" stroke="#666666" stroke-width="0.7"/>
<line x1="208.28" y1="395.00" x2="208.28" y2="397.40" stroke="#666666" stroke-width="0.7"/>
<text transform="translate(19.49,404.15) scale(1,1.15)" text-anchor="middle" font-family='"Liberation Sans", sans-serif' font-size="6.8" fill="#3a3a3a" stroke="#3a3a3a" stroke-width="0.16">0</text>
<text transform="translate(39.36,404.15) scale(1,1.15)" text-anchor="middle" font-family='"Liberation Sans", sans-serif' font-size="6.8" fill="#3a3a3a" stroke="#3a3a3a" stroke-width="0.16">5</text>
<text transform="translate(59.23,404.15) scale(1,1.15)" text-anchor="middle" font-family='"Liberation Sans", sans-serif' font-size="6.8" fill="#3a3a3a" stroke="#3a3a3a" stroke-width="0.16">10</text>
<text transform="translate(79.10,404.15) scale(1,1.15)" text-anchor="middle" font-family='"Liberation Sans", sans-serif' font-size="6.8" fill="#3a3a3a" stroke="#3a3a3a" stroke-width="0.16">15</text>
<text transform="translate(98.98,404.15) scale(1,1.15)" text-anchor="middle" font-family='"Liberation Sans", sans-serif' font-size="6.8" fill="#3a3a3a" stroke="#3a3a3a" stroke-width="0.16">20</text>
<text transform="translate(118.85,404.15) scale(1,1.15)" text-anchor="middle" font-family='"Liberation Sans", sans-serif' font-size="6.8" fill="#3a3a3a" stroke="#3a3a3a" stroke-width="0.16">25</text>
<text transform="translate(138.72,404.15) scale(1,1.15)" text-anchor="middle" font-family='"Liberation Sans", sans-serif' font-size="6.8" fill="#3a3a3a" stroke="#3a3a3a" stroke-width="0.16">30</text>
<text transform="translate(158.60,404.15) scale(1,1.15)" text-anchor="middle" font-family='"Liberation Sans", sans-serif' font-size="6.8" fill="#3a3a3a" stroke="#3a3a3a" stroke-width="0.16">35</text>
<text transform="translate(178.47,404.15) scale(1,1.15)" text-anchor="middle" font-family='"Liberation Sans", sans-serif' font-size="6.8" fill="#3a3a3a" stroke="#3a3a3a" stroke-width="0.16">40</text>
<text transform="translate(198.34,404.15) scale(1,1.15)" text-anchor="middle" font-family='"Liberation Sans", sans-serif' font-size="6.8" fill="#3a3a3a" stroke="#3a3a3a" stroke-width="0.16">45</text>
<text transform="translate(218.21,404.15) scale(1,1.15)" text-anchor="middle" font-family='"Liberation Sans", sans-serif' font-size="6.8" fill="#3a3a3a" stroke="#3a3a3a" stroke-width="0.16">50</text>
<text transform="translate(228.10,396.60) scale(1.0,1.05)" text-anchor="start" font-family='"Liberation Sans", sans-serif' font-size="6.5" fill="#3a3a3a" stroke="#3a3a3a" stroke-width="0.16">Epoch</text>
<path d="M23.46,235.25 L27.44,263.12 L31.41,292.47 L35.39,258.65 L39.36,310.36 L43.33,274.14 L47.31,301.86 L51.28,314.53 L55.26,302.76 L59.23,307.08 L63.21,263.71 L67.18,296.80 L71.16,309.02 L75.13,309.02 L79.10,316.47 L83.08,305.29 L87.05,307.97 L91.03,300.97 L95.00,280.70 L98.98,295.75 L102.95,294.86 L106.93,318.40 L110.90,280.85 L114.88,314.68 L118.85,309.91 L122.82,315.57 L126.80,316.17 L130.77,310.51 L134.75,313.19 L138.72,311.25 L142.70,271.16 L146.67,310.95 L150.65,313.78 L154.62,297.39 L158.60,297.39 L162.57,313.78 L166.54,306.78 L170.52,313.78 L174.49,300.52 L178.47,307.08 L182.44,282.49 L186.42,308.87 L190.39,313.78 L194.37,300.52 L198.34,314.08 L202.31,285.47 L206.29,311.85 L210.26,288.60 L214.24,312.74 L218.21,310.95" fill="none" stroke="#f7e2e4" stroke-width="2.6" stroke-linejoin="round"/>
<path d="M23.46,235.25 L27.44,263.12 L31.41,292.47 L35.39,258.65 L39.36,310.36 L43.33,274.14 L47.31,301.86 L51.28,314.53 L55.26,302.76 L59.23,307.08 L63.21,263.71 L67.18,296.80 L71.16,309.02 L75.13,309.02 L79.10,316.47 L83.08,305.29 L87.05,307.97 L91.03,300.97 L95.00,280.70 L98.98,295.75 L102.95,294.86 L106.93,318.40 L110.90,280.85 L114.88,314.68 L118.85,309.91 L122.82,315.57 L126.80,316.17 L130.77,310.51 L134.75,313.19 L138.72,311.25 L142.70,271.16 L146.67,310.95 L150.65,313.78 L154.62,297.39 L158.60,297.39 L162.57,313.78 L166.54,306.78 L170.52,313.78 L174.49,300.52 L178.47,307.08 L182.44,282.49 L186.42,308.87 L190.39,313.78 L194.37,300.52 L198.34,314.08 L202.31,285.47 L206.29,311.85 L210.26,288.60 L214.24,312.74 L218.21,310.95" fill="none" stroke="#bd3b42" stroke-width="1.0" stroke-linejoin="bevel"/>
<circle cx="23.46" cy="235.25" r="1.2" fill="#fbeeee" stroke="#bd3b42" stroke-width="0.55" stroke-opacity="0.55"/>
<circle cx="27.44" cy="263.12" r="1.2" fill="#fbeeee" stroke="#bd3b42" stroke-width="0.55" stroke-opacity="0.55"/>
<circle cx="31.41" cy="292.47" r="1.2" fill="#fbeeee" stroke="#bd3b42" stroke-width="0.55" stroke-opacity="0.55"/>
<circle cx="35.39" cy="258.65" r="1.2" fill="#fbeeee" stroke="#bd3b42" stroke-width="0.55" stroke-opacity="0.55"/>
<circle cx="39.36" cy="310.36" r="1.2" fill="#fbeeee" stroke="#bd3b42" stroke-width="0.55" stroke-opacity="0.55"/>
<circle cx="43.33" cy="274.14" r="1.2" fill="#fbeeee" stroke="#bd3b42" stroke-width="0.55" stroke-opacity="0.55"/>
<circle cx="47.31" cy="301.86" r="1.2" fill="#fbeeee" stroke="#bd3b42" stroke-width="0.55" stroke-opacity="0.55"/>
<circle cx="51.28" cy="314.53" r="1.2" fill="#fbeeee" stroke="#bd3b42" stroke-width="0.55" stroke-opacity="0.55"/>
<circle cx="55.26" cy="302.76" r="1.2" fill="#fbeeee" stroke="#bd3b42" stroke-width="0.55" stroke-opacity="0.55"/>
<circle cx="59.23" cy="307.08" r="1.2" fill="#fbeeee" stroke="#bd3b42" stroke-width="0.55" stroke-opacity="0.55"/>
<circle cx="63.21" cy="263.71" r="1.2" fill="#fbeeee" stroke="#bd3b42" stroke-width="0.55" stroke-opacity="0.55"/>
<circle cx="67.18" cy="296.80" r="1.2" fill="#fbeeee" stroke="#bd3b42" stroke-width="0.55" stroke-opacity="0.55"/>
<circle cx="71.16" cy="309.02" r="1.2" fill="#fbeeee" stroke="#bd3b42" stroke-width="0.55" stroke-opacity="0.55"/>
<circle cx="75.13" cy="309.02" r="1.2" fill="#fbeeee" stroke="#bd3b42" stroke-width="0.55" stroke-opacity="0.55"/>
<circle cx="79.10" cy="316.47" r="1.2" fill="#fbeeee" stroke="#bd3b42" stroke-width="0.55" stroke-opacity="0.55"/>
<circle cx="83.08" cy="305.29" r="1.2" fill="#fbeeee" stroke="#bd3b42" stroke-width="0.55" stroke-opacity="0.55"/>
<circle cx="87.05" cy="307.97" r="1.2" fill="#fbeeee" stroke="#bd3b42" stroke-width="0.55" stroke-opacity="0.55"/>
<circle cx="91.03" cy="300.97" r="1.2" fill="#fbeeee" stroke="#bd3b42" stroke-width="0.55" stroke-opacity="0.55"/>
<circle cx="95.00" cy="280.70" r="1.2" fill="#fbeeee" stroke="#bd3b42" stroke-width="0.55" stroke-opacity="0.55"/>
<circle cx="98.98" cy="295.75" r="1.2" fill="#fbeeee" stroke="#bd3b42" stroke-width="0.55" stroke-opacity="0.55"/>
<circle cx="102.95" cy="294.86" r="1.2" fill="#fbeeee" stroke="#bd3b42" stroke-width="0.55" stroke-opacity="0.55"/>
<circle cx="106.93" cy="318.40" r="1.2" fill="#fbeeee" stroke="#bd3b42" stroke-width="0.55" stroke-opacity="0.55"/>
<circle cx="110.90" cy="280.85" r="1.2" fill="#fbeeee" stroke="#bd3b42" stroke-width="0.55" stroke-opacity="0.55"/>
<circle cx="114.88" cy="314.68" r="1.2" fill="#fbeeee" stroke="#bd3b42" stroke-width="0.55" stroke-opacity="0.55"/>
<circle cx="118.85" cy="309.91" r="1.2" fill="#fbeeee" stroke="#bd3b42" stroke-width="0.55" stroke-opacity="0.55"/>
<circle cx="122.82" cy="315.57" r="1.2" fill="#fbeeee" stroke="#bd3b42" stroke-width="0.55" stroke-opacity="0.55"/>
<circle cx="126.80" cy="316.17" r="1.2" fill="#fbeeee" stroke="#bd3b42" stroke-width="0.55" stroke-opacity="0.55"/>
<circle cx="130.77" cy="310.51" r="1.2" fill="#fbeeee" stroke="#bd3b42" stroke-width="0.55" stroke-opacity="0.55"/>
<circle cx="134.75" cy="313.19" r="1.2" fill="#fbeeee" stroke="#bd3b42" stroke-width="0.55" stroke-opacity="0.55"/>
<circle cx="138.72" cy="311.25" r="1.2" fill="#fbeeee" stroke="#bd3b42" stroke-width="0.55" stroke-opacity="0.55"/>
<circle cx="142.70" cy="271.16" r="1.2" fill="#fbeeee" stroke="#bd3b42" stroke-width="0.55" stroke-opacity="0.55"/>
<circle cx="146.67" cy="310.95" r="1.2" fill="#fbeeee" stroke="#bd3b42" stroke-width="0.55" stroke-opacity="0.55"/>
<circle cx="150.65" cy="313.78" r="1.2" fill="#fbeeee" stroke="#bd3b42" stroke-width="0.55" stroke-opacity="0.55"/>
<circle cx="154.62" cy="297.39" r="1.2" fill="#fbeeee" stroke="#bd3b42" stroke-width="0.55" stroke-opacity="0.55"/>
<circle cx="158.60" cy="297.39" r="1.2" fill="#fbeeee" stroke="#bd3b42" stroke-width="0.55" stroke-opacity="0.55"/>
<circle cx="162.57" cy="313.78" r="1.2" fill="#fbeeee" stroke="#bd3b42" stroke-width="0.55" stroke-opacity="0.55"/>
<circle cx="166.54" cy="306.78" r="1.2" fill="#fbeeee" stroke="#bd3b42" stroke-width="0.55" stroke-opacity="0.55"/>
<circle cx="170.52" cy="313.78" r="1.2" fill="#fbeeee" stroke="#bd3b42" stroke-width="0.55" stroke-opacity="0.55"/>
<circle cx="174.49" cy="300.52" r="1.2" fill="#fbeeee" stroke="#bd3b42" stroke-width="0.55" stroke-opacity="0.55"/>
<circle cx="178.47" cy="307.08" r="1.2" fill="#fbeeee" stroke="#bd3b42" stroke-width="0.55" stroke-opacity="0.55"/>
<circle cx="182.44" cy="282.49" r="1.2" fill="#fbeeee" stroke="#bd3b42" stroke-width="0.55" stroke-opacity="0.55"/>
<circle cx="186.42" cy="308.87" r="1.2" fill="#fbeeee" stroke="#bd3b42" stroke-width="0.55" stroke-opacity="0.55"/>
<circle cx="190.39" cy="313.78" r="1.2" fill="#fbeeee" stroke="#bd3b42" stroke-width="0.55" stroke-opacity="0.55"/>
<circle cx="194.37" cy="300.52" r="1.2" fill="#fbeeee" stroke="#bd3b42" stroke-width="0.55" stroke-opacity="0.55"/>
<circle cx="198.34" cy="314.08" r="1.2" fill="#fbeeee" stroke="#bd3b42" stroke-width="0.55" stroke-opacity="0.55"/>
<circle cx="202.31" cy="285.47" r="1.2" fill="#fbeeee" stroke="#bd3b42" stroke-width="0.55" stroke-opacity="0.55"/>
<circle cx="206.29" cy="311.85" r="1.2" fill="#fbeeee" stroke="#bd3b42" stroke-width="0.55" stroke-opacity="0.55"/>
<circle cx="210.26" cy="288.60" r="1.2" fill="#fbeeee" stroke="#bd3b42" stroke-width="0.55" stroke-opacity="0.55"/>
<circle cx="214.24" cy="312.74" r="1.2" fill="#fbeeee" stroke="#bd3b42" stroke-width="0.55" stroke-opacity="0.55"/>
<circle cx="218.21" cy="310.95" r="1.2" fill="#fbeeee" stroke="#bd3b42" stroke-width="0.55" stroke-opacity="0.55"/>
<text transform="translate(390.60,214.10) scale(1,1.13)" text-anchor="middle" font-family='"Liberation Sans", sans-serif' font-size="9" fill="#151515" font-weight="bold">RMSE</text>
<path d="M512.40,208.40 L512.40,213.80 M509.50,211.40 L512.40,213.90 L515.30,211.40 M509.30,213.60 L509.30,215.60 L515.60,215.60 L515.60,213.60" fill="none" stroke="#8a8a8a" stroke-width="0.95"/>
<text transform="translate(291.10,226.10) scale(0.92,1.05)" text-anchor="middle" font-family='"Liberation Sans", sans-serif' font-size="6.5" fill="#3a3a3a" stroke="#3a3a3a" stroke-width="0.16">RMSE</text>
<line x1="291.10" y1="235.30" x2="493.80" y2="235.30" stroke="#d2d2d2" stroke-width="0.8"/>
<line x1="291.10" y1="235.30" x2="293.30" y2="235.30" stroke="#666666" stroke-width="0.7"/>
<line x1="291.10" y1="240.76" x2="493.80" y2="240.76" stroke="#d2d2d2" stroke-width="0.8"/>
<line x1="291.10" y1="240.76" x2="293.30" y2="240.76" stroke="#666666" stroke-width="0.7"/>
<text transform="translate(286.80,242.71) scale(1,1.1)" text-anchor="end" font-family='"Liberation Sans", sans-serif' font-size="7" fill="#3a3a3a" textLength="11.9" lengthAdjust="spacingAndGlyphs" stroke="#3a3a3a" stroke-width="0.16">1.00</text>
<line x1="291.10" y1="271.61" x2="493.80" y2="271.61" stroke="#d2d2d2" stroke-width="0.8"/>
<line x1="291.10" y1="271.61" x2="293.30" y2="271.61" stroke="#666666" stroke-width="0.7"/>
<text transform="translate(286.80,273.56) scale(1,1.1)" text-anchor="end" font-family='"Liberation Sans", sans-serif' font-size="7" fill="#3a3a3a" textLength="11.9" lengthAdjust="spacingAndGlyphs" stroke="#3a3a3a" stroke-width="0.16">0.80</text>
<line x1="291.10" y1="302.45" x2="493.80" y2="302.45" stroke="#d2d2d2" stroke-width="0.8"/>
<line x1="291.10" y1="302.45" x2="293.30" y2="302.45" stroke="#666666" stroke-width="0.7"/>
<text transform="translate(286.80,304.40) scale(1,1.1)" text-anchor="end" font-family='"Liberation Sans", sans-serif' font-size="7" fill="#3a3a3a" textLength="11.9" lengthAdjust="spacingAndGlyphs" stroke="#3a3a3a" stroke-width="0.16">0.60</text>
<line x1="291.10" y1="333.30" x2="493.80" y2="333.30" stroke="#d2d2d2" stroke-width="0.8"/>
<line x1="291.10" y1="333.30" x2="293.30" y2="333.30" stroke="#666666" stroke-width="0.7"/>
<text transform="translate(286.80,335.25) scale(1,1.1)" text-anchor="end" font-family='"Liberation Sans", sans-serif' font-size="7" fill="#3a3a3a" textLength="11.9" lengthAdjust="spacingAndGlyphs" stroke="#3a3a3a" stroke-width="0.16">0.40</text>
<line x1="291.10" y1="364.15" x2="493.80" y2="364.15" stroke="#d2d2d2" stroke-width="0.8"/>
<line x1="291.10" y1="364.15" x2="293.30" y2="364.15" stroke="#666666" stroke-width="0.7"/>
<text transform="translate(286.80,366.10) scale(1,1.1)" text-anchor="end" font-family='"Liberation Sans", sans-serif' font-size="7" fill="#3a3a3a" textLength="11.9" lengthAdjust="spacingAndGlyphs" stroke="#3a3a3a" stroke-width="0.16">0.20</text>
<text transform="translate(286.80,396.95) scale(1,1.1)" text-anchor="end" font-family='"Liberation Sans", sans-serif' font-size="7" fill="#3a3a3a" textLength="11.9" lengthAdjust="spacingAndGlyphs" stroke="#3a3a3a" stroke-width="0.16">0.00</text>
<line x1="291.10" y1="234.90" x2="291.10" y2="395.00" stroke="#8f8f8f" stroke-width="1.1"/>
<line x1="290.60" y1="395.00" x2="493.80" y2="395.00" stroke="#666666" stroke-width="0.9"/>
<line x1="303.02" y1="395.00" x2="303.02" y2="397.40" stroke="#666666" stroke-width="0.7"/>
<line x1="322.90" y1="395.00" x2="322.90" y2="397.40" stroke="#666666" stroke-width="0.7"/>
<line x1="342.77" y1="395.00" x2="342.77" y2="397.40" stroke="#666666" stroke-width="0.7"/>
<line x1="362.64" y1="395.00" x2="362.64" y2="397.40" stroke="#666666" stroke-width="0.7"/>
<line x1="382.51" y1="395.00" x2="382.51" y2="397.40" stroke="#666666" stroke-width="0.7"/>
<line x1="402.39" y1="395.00" x2="402.39" y2="397.40" stroke="#666666" stroke-width="0.7"/>
<line x1="422.26" y1="395.00" x2="422.26" y2="397.40" stroke="#666666" stroke-width="0.7"/>
<line x1="442.13" y1="395.00" x2="442.13" y2="397.40" stroke="#666666" stroke-width="0.7"/>
<line x1="462.00" y1="395.00" x2="462.00" y2="397.40" stroke="#666666" stroke-width="0.7"/>
<line x1="481.88" y1="395.00" x2="481.88" y2="397.40" stroke="#666666" stroke-width="0.7"/>
<text transform="translate(293.09,404.15) scale(1,1.15)" text-anchor="middle" font-family='"Liberation Sans", sans-serif' font-size="6.8" fill="#3a3a3a" stroke="#3a3a3a" stroke-width="0.16">0</text>
<text transform="translate(312.96,404.15) scale(1,1.15)" text-anchor="middle" font-family='"Liberation Sans", sans-serif' font-size="6.8" fill="#3a3a3a" stroke="#3a3a3a" stroke-width="0.16">5</text>
<text transform="translate(332.83,404.15) scale(1,1.15)" text-anchor="middle" font-family='"Liberation Sans", sans-serif' font-size="6.8" fill="#3a3a3a" stroke="#3a3a3a" stroke-width="0.16">10</text>
<text transform="translate(352.70,404.15) scale(1,1.15)" text-anchor="middle" font-family='"Liberation Sans", sans-serif' font-size="6.8" fill="#3a3a3a" stroke="#3a3a3a" stroke-width="0.16">15</text>
<text transform="translate(372.58,404.15) scale(1,1.15)" text-anchor="middle" font-family='"Liberation Sans", sans-serif' font-size="6.8" fill="#3a3a3a" stroke="#3a3a3a" stroke-width="0.16">20</text>
<text transform="translate(392.45,404.15) scale(1,1.15)" text-anchor="middle" font-family='"Liberation Sans", sans-serif' font-size="6.8" fill="#3a3a3a" stroke="#3a3a3a" stroke-width="0.16">25</text>
<text transform="translate(412.32,404.15) scale(1,1.15)" text-anchor="middle" font-family='"Liberation Sans", sans-serif' font-size="6.8" fill="#3a3a3a" stroke="#3a3a3a" stroke-width="0.16">30</text>
<text transform="translate(432.20,404.15) scale(1,1.15)" text-anchor="middle" font-family='"Liberation Sans", sans-serif' font-size="6.8" fill="#3a3a3a" stroke="#3a3a3a" stroke-width="0.16">35</text>
<text transform="translate(452.07,404.15) scale(1,1.15)" text-anchor="middle" font-family='"Liberation Sans", sans-serif' font-size="6.8" fill="#3a3a3a" stroke="#3a3a3a" stroke-width="0.16">40</text>
<text transform="translate(471.94,404.15) scale(1,1.15)" text-anchor="middle" font-family='"Liberation Sans", sans-serif' font-size="6.8" fill="#3a3a3a" stroke="#3a3a3a" stroke-width="0.16">45</text>
<text transform="translate(491.81,404.15) scale(1,1.15)" text-anchor="middle" font-family='"Liberation Sans", sans-serif' font-size="6.8" fill="#3a3a3a" stroke="#3a3a3a" stroke-width="0.16">50</text>
<text transform="translate(501.70,396.60) scale(1.0,1.05)" text-anchor="start" font-family='"Liberation Sans", sans-serif' font-size="6.5" fill="#3a3a3a" stroke="#3a3a3a" stroke-width="0.16">Epoch</text>
<path d="M297.06,235.30 L301.04,249.90 L305.01,267.06 L308.99,247.46 L312.96,278.75 L316.93,256.09 L320.91,273.06 L324.88,281.65 L328.86,273.65 L332.83,276.52 L336.81,250.22 L340.78,269.79 L344.76,277.84 L348.73,277.84 L352.70,283.03 L356.68,275.32 L360.65,277.13 L364.63,272.48 L368.60,259.92 L372.58,269.12 L376.55,268.56 L380.53,284.42 L384.50,260.00 L388.48,281.76 L392.45,278.45 L396.42,282.39 L400.40,282.81 L404.37,278.86 L408.35,280.71 L412.32,279.37 L416.30,254.39 L420.27,279.16 L424.25,281.13 L428.22,270.17 L432.20,270.17 L436.17,281.13 L440.14,276.32 L444.12,281.13 L448.09,272.18 L452.07,276.52 L456.04,260.98 L460.02,277.73 L463.99,281.13 L467.97,272.18 L471.94,281.34 L475.91,262.76 L479.89,279.78 L483.86,264.67 L487.84,280.40 L491.81,279.16" fill="none" stroke="#f7e2e4" stroke-width="2.6" stroke-linejoin="round"/>
<path d="M297.06,235.30 L301.04,249.90 L305.01,267.06 L308.99,247.46 L312.96,278.75 L316.93,256.09 L320.91,273.06 L324.88,281.65 L328.86,273.65 L332.83,276.52 L336.81,250.22 L340.78,269.79 L344.76,277.84 L348.73,277.84 L352.70,283.03 L356.68,275.32 L360.65,277.13 L364.63,272.48 L368.60,259.92 L372.58,269.12 L376.55,268.56 L380.53,284.42 L384.50,260.00 L388.48,281.76 L392.45,278.45 L396.42,282.39 L400.40,282.81 L404.37,278.86 L408.35,280.71 L412.32,279.37 L416.30,254.39 L420.27,279.16 L424.25,281.13 L428.22,270.17 L432.20,270.17 L436.17,281.13 L440.14,276.32 L444.12,281.13 L448.09,272.18 L452.07,276.52 L456.04,260.98 L460.02,277.73 L463.99,281.13 L467.97,272.18 L471.94,281.34 L475.91,262.76 L479.89,279.78 L483.86,264.67 L487.84,280.40 L491.81,279.16" fill="none" stroke="#bd3b42" stroke-width="1.0" stroke-linejoin="bevel"/>
<circle cx="297.06" cy="235.30" r="1.2" fill="#fbeeee" stroke="#bd3b42" stroke-width="0.55" stroke-opacity="0.55"/>
<circle cx="301.04" cy="249.90" r="1.2" fill="#fbeeee" stroke="#bd3b42" stroke-width="0.55" stroke-opacity="0.55"/>
<circle cx="305.01" cy="267.06" r="1.2" fill="#fbeeee" stroke="#bd3b42" stroke-width="0.55" stroke-opacity="0.55"/>
<circle cx="308.99" cy="247.46" r="1.2" fill="#fbeeee" stroke="#bd3b42" stroke-width="0.55" stroke-opacity="0.55"/>
<circle cx="312.96" cy="278.75" r="1.2" fill="#fbeeee" stroke="#bd3b42" stroke-width="0.55" stroke-opacity="0.55"/>
<circle cx="316.93" cy="256.09" r="1.2" fill="#fbeeee" stroke="#bd3b42" stroke-width="0.55" stroke-opacity="0.55"/>
<circle cx="320.91" cy="273.06" r="1.2" fill="#fbeeee" stroke="#bd3b42" stroke-width="0.55" stroke-opacity="0.55"/>
<circle cx="324.88" cy="281.65" r="1.2" fill="#fbeeee" stroke="#bd3b42" stroke-width="0.55" stroke-opacity="0.55"/>
<circle cx="328.86" cy="273.65" r="1.2" fill="#fbeeee" stroke="#bd3b42" stroke-width="0.55" stroke-opacity="0.55"/>
<circle cx="332.83" cy="276.52" r="1.2" fill="#fbeeee" stroke="#bd3b42" stroke-width="0.55" stroke-opacity="0.55"/>
<circle cx="336.81" cy="250.22" r="1.2" fill="#fbeeee" stroke="#bd3b42" stroke-width="0.55" stroke-opacity="0.55"/>
<circle cx="340.78" cy="269.79" r="1.2" fill="#fbeeee" stroke="#bd3b42" stroke-width="0.55" stroke-opacity="0.55"/>
<circle cx="344.76" cy="277.84" r="1.2" fill="#fbeeee" stroke="#bd3b42" stroke-width="0.55" stroke-opacity="0.55"/>
<circle cx="348.73" cy="277.84" r="1.2" fill="#fbeeee" stroke="#bd3b42" stroke-width="0.55" stroke-opacity="0.55"/>
<circle cx="352.70" cy="283.03" r="1.2" fill="#fbeeee" stroke="#bd3b42" stroke-width="0.55" stroke-opacity="0.55"/>
<circle cx="356.68" cy="275.32" r="1.2" fill="#fbeeee" stroke="#bd3b42" stroke-width="0.55" stroke-opacity="0.55"/>
<circle cx="360.65" cy="277.13" r="1.2" fill="#fbeeee" stroke="#bd3b42" stroke-width="0.55" stroke-opacity="0.55"/>
<circle cx="364.63" cy="272.48" r="1.2" fill="#fbeeee" stroke="#bd3b42" stroke-width="0.55" stroke-opacity="0.55"/>
<circle cx="368.60" cy="259.92" r="1.2" fill="#fbeeee" stroke="#bd3b42" stroke-width="0.55" stroke-opacity="0.55"/>
<circle cx="372.58" cy="269.12" r="1.2" fill="#fbeeee" stroke="#bd3b42" stroke-width="0.55" stroke-opacity="0.55"/>
<circle cx="376.55" cy="268.56" r="1.2" fill="#fbeeee" stroke="#bd3b42" stroke-width="0.55" stroke-opacity="0.55"/>
<circle cx="380.53" cy="284.42" r="1.2" fill="#fbeeee" stroke="#bd3b42" stroke-width="0.55" stroke-opacity="0.55"/>
<circle cx="384.50" cy="260.00" r="1.2" fill="#fbeeee" stroke="#bd3b42" stroke-width="0.55" stroke-opacity="0.55"/>
<circle cx="388.48" cy="281.76" r="1.2" fill="#fbeeee" stroke="#bd3b42" stroke-width="0.55" stroke-opacity="0.55"/>
<circle cx="392.45" cy="278.45" r="1.2" fill="#fbeeee" stroke="#bd3b42" stroke-width="0.55" stroke-opacity="0.55"/>
<circle cx="396.42" cy="282.39" r="1.2" fill="#fbeeee" stroke="#bd3b42" stroke-width="0.55" stroke-opacity="0.55"/>
<circle cx="400.40" cy="282.81" r="1.2" fill="#fbeeee" stroke="#bd3b42" stroke-width="0.55" stroke-opacity="0.55"/>
<circle cx="404.37" cy="278.86" r="1.2" fill="#fbeeee" stroke="#bd3b42" stroke-width="0.55" stroke-opacity="0.55"/>
<circle cx="408.35" cy="280.71" r="1.2" fill="#fbeeee" stroke="#bd3b42" stroke-width="0.55" stroke-opacity="0.55"/>
<circle cx="412.32" cy="279.37" r="1.2" fill="#fbeeee" stroke="#bd3b42" stroke-width="0.55" stroke-opacity="0.55"/>
<circle cx="416.30" cy="254.39" r="1.2" fill="#fbeeee" stroke="#bd3b42" stroke-width="0.55" stroke-opacity="0.55"/>
<circle cx="420.27" cy="279.16" r="1.2" fill="#fbeeee" stroke="#bd3b42" stroke-width="0.55" stroke-opacity="0.55"/>
<circle cx="424.25" cy="281.13" r="1.2" fill="#fbeeee" stroke="#bd3b42" stroke-width="0.55" stroke-opacity="0.55"/>
<circle cx="428.22" cy="270.17" r="1.2" fill="#fbeeee" stroke="#bd3b42" stroke-width="0.55" stroke-opacity="0.55"/>
<circle cx="432.20" cy="270.17" r="1.2" fill="#fbeeee" stroke="#bd3b42" stroke-width="0.55" stroke-opacity="0.55"/>
<circle cx="436.17" cy="281.13" r="1.2" fill="#fbeeee" stroke="#bd3b42" stroke-width="0.55" stroke-opacity="0.55"/>
<circle cx="440.14" cy="276.32" r="1.2" fill="#fbeeee" stroke="#bd3b42" stroke-width="0.55" stroke-opacity="0.55"/>
<circle cx="444.12" cy="281.13" r="1.2" fill="#fbeeee" stroke="#bd3b42" stroke-width="0.55" stroke-opacity="0.55"/>
<circle cx="448.09" cy="272.18" r="1.2" fill="#fbeeee" stroke="#bd3b42" stroke-width="0.55" stroke-opacity="0.55"/>
<circle cx="452.07" cy="276.52" r="1.2" fill="#fbeeee" stroke="#bd3b42" stroke-width="0.55" stroke-opacity="0.55"/>
<circle cx="456.04" cy="260.98" r="1.2" fill="#fbeeee" stroke="#bd3b42" stroke-width="0.55" stroke-opacity="0.55"/>
<circle cx="460.02" cy="277.73" r="1.2" fill="#fbeeee" stroke="#bd3b42" stroke-width="0.55" stroke-opacity="0.55"/>
<circle cx="463.99" cy="281.13" r="1.2" fill="#fbeeee" stroke="#bd3b42" stroke-width="0.55" stroke-opacity="0.55"/>
<circle cx="467.97" cy="272.18" r="1.2" fill="#fbeeee" stroke="#bd3b42" stroke-width="0.55" stroke-opacity="0.55"/>
<circle cx="471.94" cy="281.34" r="1.2" fill="#fbeeee" stroke="#bd3b42" stroke-width="0.55" stroke-opacity="0.55"/>
<circle cx="475.91" cy="262.76" r="1.2" fill="#fbeeee" stroke="#bd3b42" stroke-width="0.55" stroke-opacity="0.55"/>
<circle cx="479.89" cy="279.78" r="1.2" fill="#fbeeee" stroke="#bd3b42" stroke-width="0.55" stroke-opacity="0.55"/>
<circle cx="483.86" cy="264.67" r="1.2" fill="#fbeeee" stroke="#bd3b42" stroke-width="0.55" stroke-opacity="0.55"/>
<circle cx="487.84" cy="280.40" r="1.2" fill="#fbeeee" stroke="#bd3b42" stroke-width="0.55" stroke-opacity="0.55"/>
<circle cx="491.81" cy="279.16" r="1.2" fill="#fbeeee" stroke="#bd3b42" stroke-width="0.55" stroke-opacity="0.55"/>
<text transform="translate(117.00,420.60) scale(1,1.13)" text-anchor="middle" font-family='"Liberation Sans", sans-serif' font-size="9" fill="#151515" font-weight="bold">MAE</text>
<path d="M238.80,414.90 L238.80,420.30 M235.90,417.90 L238.80,420.40 L241.70,417.90 M235.70,420.10 L235.70,422.10 L242.00,422.10 L242.00,420.10" fill="none" stroke="#8a8a8a" stroke-width="0.95"/>
</g>
</svg>
</body></html>
